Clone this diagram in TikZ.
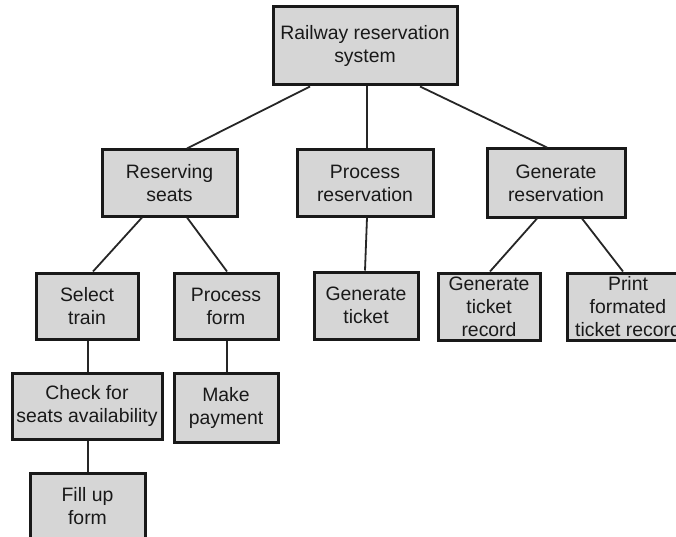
\documentclass[tikz,border=0pt]{standalone}
\usepackage{fontspec}
\setmainfont{Liberation Sans}
\begin{document}
\begin{tikzpicture}[x=1pt,y=-1pt,
  box/.style={draw=black!90, line width=3pt, fill=black!16,
    inner sep=0pt, align=center, text=black!90,
    font=\fontsize{19.4}{23}\selectfont},
  link/.style={draw=black!85, line width=1.8pt}]
\clip (0,0) rectangle (676,537);
\fill[white] (0,0) rectangle (676,537);

% level 0
\node[box, minimum width=184pt, minimum height=78pt] (rrs) at (365,46) {Railway reservation\\system};

% level 1
\node[box, minimum width=135pt, minimum height=66pt] (rs) at (169.5,183) {Reserving\\seats};
\node[box, minimum width=136pt, minimum height=66pt] (pr) at (365,183) {Process\\reservation};
\node[box, minimum width=138pt, minimum height=68pt] (gr) at (556,183) {Generate\\reservation};

% level 2
\node[box, minimum width=102pt, minimum height=66pt] (st) at (87,306) {Select\\train};
\node[box, minimum width=104pt, minimum height=66pt] (pf) at (226,306) {Process\\form};
\node[box, minimum width=104pt, minimum height=67pt] (gt) at (366,305.5) {Generate\\ticket};
\node[box, minimum width=102pt, minimum height=67pt] (gtr) at (489,306.5) {Generate\\ticket\\record};
\node[box, minimum width=122pt, minimum height=67pt] (pftr) at (628,306.5) {Print\\formated\\ticket record};

% level 3
\node[box, minimum width=150pt, minimum height=66pt] (cs) at (87,406) {Check for\\seats availability};
\node[box, minimum width=104pt, minimum height=69pt] (mp) at (226,407.5) {Make\\payment};

% level 4
\node[box, minimum width=115pt, minimum height=66pt] (fu) at (87.5,506) {Fill up\\form};

% connectors
\draw[link] ([xshift=-55pt]rrs.south) -- ([xshift=17.5pt]rs.north);
\draw[link] ([xshift=2pt]rrs.south) -- ([xshift=2pt]pr.north);
\draw[link] ([xshift=55pt]rrs.south) -- ([xshift=-9pt]gr.north);

\draw[link] ([xshift=-27.5pt]rs.south) -- ([xshift=6pt]st.north);
\draw[link] ([xshift=17.5pt]rs.south) -- ([xshift=1pt]pf.north);
\draw[link] ([xshift=2pt]pr.south) -- ([xshift=-1pt]gt.north);
\draw[link] ([xshift=-19pt]gr.south) -- ([xshift=1pt]gtr.north);
\draw[link] ([xshift=26pt]gr.south) -- ([xshift=-5pt]pftr.north);

\draw[link] ([xshift=1pt]st.south) -- ([xshift=1pt]cs.north);
\draw[link] ([xshift=1pt]pf.south) -- ([xshift=1pt]mp.north);
\draw[link] ([xshift=1pt]cs.south) -- ([xshift=0.5pt]fu.north);
\end{tikzpicture}
\end{document}
